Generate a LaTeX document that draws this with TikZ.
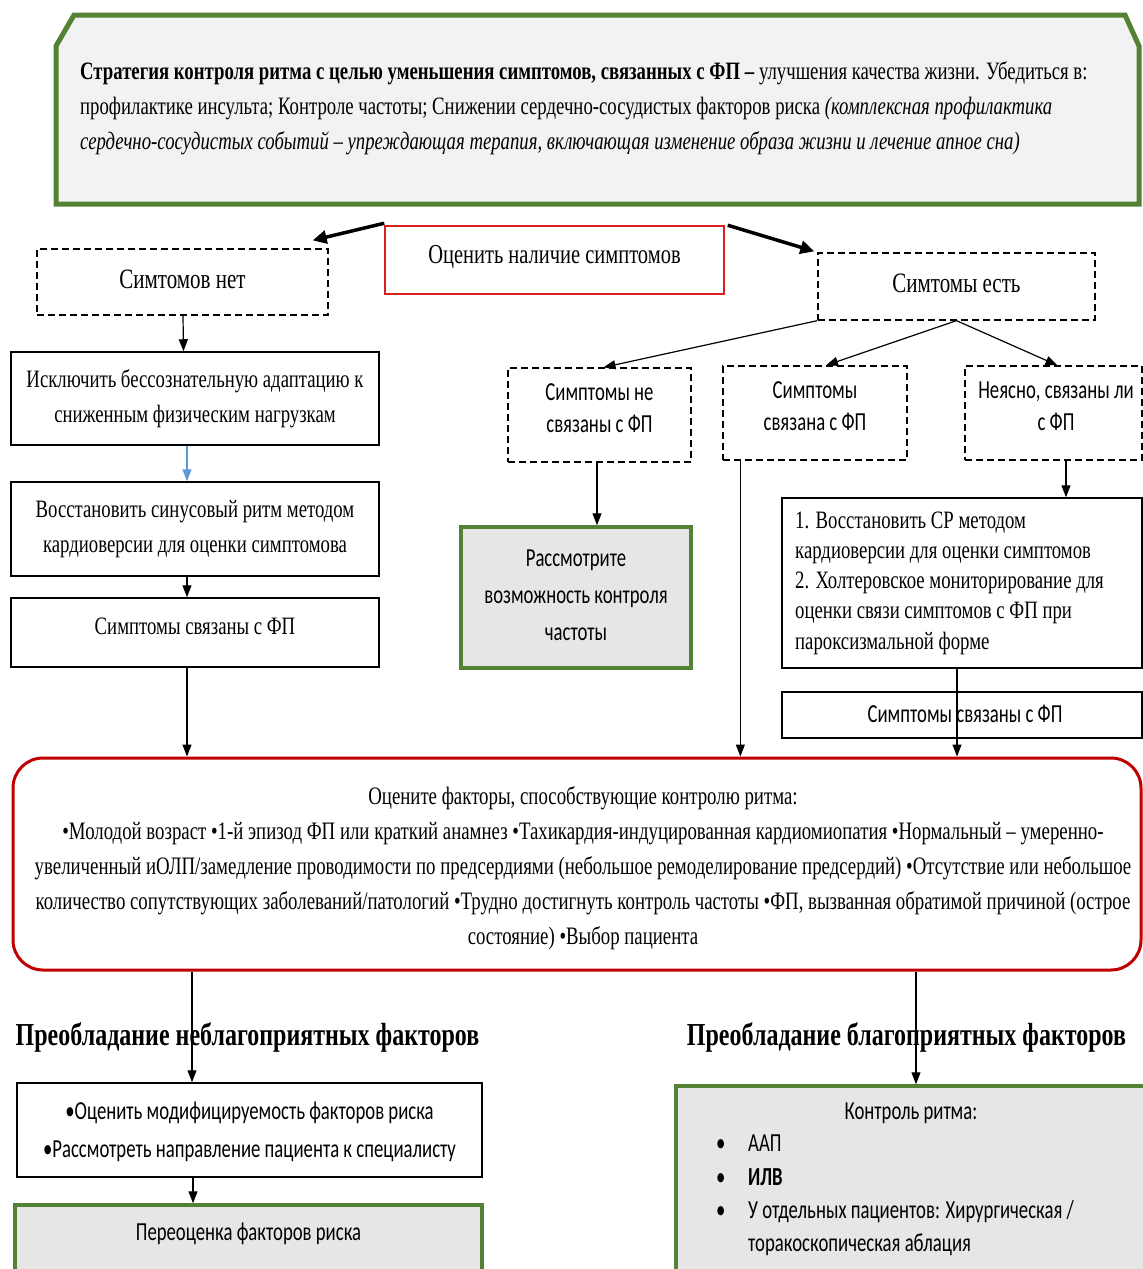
\documentclass[tikz,border=0pt]{standalone}
\usepackage{fontspec}
\setmainfont[FakeStretch=0.75]{Liberation Serif}
\newfontfamily\calfont[FakeStretch=0.72]{Carlito}
\usetikzlibrary{arrows.meta,calc}
\definecolor{grn}{HTML}{548235}
\definecolor{redd}{HTML}{C00000}
\definecolor{lred}{HTML}{D82020}
\definecolor{fillA}{HTML}{F2F2F2}
\definecolor{fillB}{HTML}{E6E6E6}
\definecolor{blu}{HTML}{5B9BD5}
\tikzset{
  srfbig/.style={font=\fontsize{28}{35}\selectfont},
  srf/.style={font=\fontsize{25}{35}\selectfont},
  sns/.style={font=\calfont\fontsize{26}{32}\selectfont},
  solidbox/.style={draw=black, line width=1.5pt, rectangle, inner sep=0pt, align=center},
  dashbox/.style={draw=black, line width=1.3pt, dash pattern=on 7pt off 4pt, rectangle, inner sep=0pt, align=center},
  greenbox/.style={draw=grn, line width=3.5pt, fill=fillB, rectangle, inner sep=0pt, align=center},
  txt/.style={inner sep=0pt, align=center},
  arr/.style={draw=black, line width=1.2pt, -{Triangle[length=12pt,width=9pt]}},
  thickarr/.style={draw=black, line width=3.5pt, -{Triangle[length=14pt,width=13pt]}},
}
\begin{document}
\begin{tikzpicture}[x=1pt,y=-1pt]
\useasboundingbox (0,0) rectangle (1143,1269);
% top box
\draw[draw=grn, line width=5pt, fill=fillA] (74,15) -- (1125,15) -- (1139,46) -- (1139,204) -- (56,204) -- (56,46) -- cycle;
\node[font=\fontsize{25}{35}\selectfont, anchor=west, align=left, inner sep=0pt] (strat) at (80,108)
 {\textbf{Стратегия контроля ритма с целью уменьшения симптомов, связанных с ФП –} улучшения качества жизни. Убедиться в:\\
  профилактике инсульта; Контроле частоты; Снижении сердечно-сосудистых факторов риска \textit{(комплексная профилактика}\\
  \textit{сердечно-сосудистых событий – упреждающая терапия, включающая изменение образа жизни и лечение апное сна)}};

\node[solidbox, draw=lred, minimum width=339pt, minimum height=68pt] (ocen) at (554.5,260) {};
\node[txt, font=\fontsize{27.3}{35}\selectfont] (ocenT) at (554.5,257) {Оценить наличие симптомов};
\node[dashbox, minimum width=291pt, minimum height=66pt] (net) at (182.5,282) {};
\node[txt, srfbig] (netT) at (182.5,279) {Симтомов нет};
\node[dashbox, minimum width=277pt, minimum height=67pt] (yes) at (956.5,286.5) {};
\node[txt, srfbig] (yesT) at (956.5,283) {Симтомы есть};

\node[solidbox, srf, minimum width=368pt, minimum height=93pt] (excl) at (195,398.5) {Исключить бессознательную адаптацию к\\сниженным физическим нагрузкам};
\node[solidbox, srf, minimum width=368pt, minimum height=94pt] (rest) at (195,529) {Восстановить синусовый ритм методом\\кардиоверсии для оценки симптомова};
\node[solidbox, minimum width=368pt, minimum height=69pt] (svl) at (195,632.5) {};
\node[txt, srf] (svlT) at (195,626.5) {Симптомы связаны с ФП};

\node[dashbox, minimum width=183pt, minimum height=94pt] (notrel) at (599.5,415) {};
\node[txt, sns] (notrelT) at (599.5,408) {Симптомы не\\связаны с ФП};
\node[dashbox, minimum width=184pt, minimum height=94pt] (rel) at (815,413) {};
\node[txt, sns] (relT) at (815,406) {Симптомы\\связана с ФП};
\node[dashbox, minimum width=177pt, minimum height=94pt] (unc) at (1053.5,413) {};
\node[txt, sns] (uncT) at (1056,406) {Неясно, связаны ли\\с ФП};

\node[greenbox, minimum width=230pt, minimum height=141pt] (rate) at (576,597.5) {};
\node[txt, font=\calfont\fontsize{26}{37}\selectfont] (rateT) at (576,595.5) {Рассмотрите\\возможность контроля\\частоты};

\node[solidbox, minimum width=360pt, minimum height=170pt] (two) at (962,583) {};
\node[font=\fontsize{25}{30.3}\selectfont, anchor=west, align=left, inner sep=0pt] (twoT) at (795,583)
 {1. Восстановить СР методом\\кардиоверсии для оценки симптомов\\2. Холтеровское мониторирование для\\оценки связи симптомов с ФП при\\пароксизмальной форме};
\node[solidbox, minimum width=360pt, minimum height=46pt] (svl2) at (962,715) {};
\node[txt, sns] (svl2T) at (965,714) {Симптомы связаны с ФП};

\node[draw=redd, line width=3pt, rounded corners=30pt, rectangle, minimum width=1128pt, minimum height=212pt, inner sep=0pt] (red) at (577,864) {};
\node[txt, font=\fontsize{25.1}{35}\selectfont] (redT) at (583,868)
 {Оцените факторы, способствующие контролю ритма:\\
  •Молодой возраст •1-й эпизод ФП или краткий анамнез •Тахикардия-индуцированная кардиомиопатия •Нормальный – умеренно-\\
  увеличенный иОЛП/замедление проводимости по предсердиями (небольшое ремоделирование предсердий) •Отсутствие или небольшое\\
  количество сопутствующих заболеваний/патологий •Трудно достигнуть контроль частоты •ФП, вызванная обратимой причиной (острое\\
  состояние) •Выбор пациента};

\node[txt, font=\bfseries\fontsize{32}{36}\selectfont] (h1) at (247.5,1037) {Преобладание неблагоприятных факторов};
\node[txt, font=\bfseries\fontsize{32}{36}\selectfont] (h2) at (906.5,1037) {Преобладание благоприятных факторов};

\node[solidbox, minimum width=465pt, minimum height=94pt] (mod) at (249.5,1130) {};
\node[txt, font=\calfont\fontsize{26}{38}\selectfont] (modT) at (249.5,1131.5) {•Оценить модифицируемость факторов риска\\•Рассмотреть направление пациента к специалисту};
\node[greenbox, minimum width=467pt, minimum height=80pt] (reo) at (248.5,1245) {};
\node[txt, sns] (reoT) at (248.5,1234) {Переоценка факторов риска};

\node[greenbox, minimum width=474pt, minimum height=200pt] (ctrl) at (913,1186) {};
\node[txt, sns] (ctitle) at (911,1113) {Контроль ритма:};
\node[font=\calfont\fontsize{26}{33.3}\selectfont, anchor=north west, align=left, inner sep=0pt] (clist) at (716,1135)
 {\makebox[32pt][l]{•}ААП\\
  \makebox[32pt][l]{•}\textbf{ИЛВ}\\
  \makebox[32pt][l]{•}У отдельных пациентов: Хирургическая /\\
  \hspace*{32pt}торакоскопическая аблация};

% helper coordinates
\coordinate (c1) at ([xshift=-8pt]svl.south);
\coordinate (c2) at ([xshift=18pt]rel.south west);
\coordinate (c3) at ([xshift=12.5pt]unc.south);
\coordinate (c4) at ([xshift=-5pt]two.south);
\coordinate (c5) at ([xshift=-57.5pt]mod.north);
\coordinate (c6) at ([xshift=3pt]ctrl.north);

% connectors
\draw[thickarr] ([yshift=2pt]ocen.north west) -- ([shift={(-16,-8)}]net.north east);
\draw[thickarr] ([xshift=3pt]ocen.north east) -- ([shift={(-3,-1)}]yes.north west);
\draw[arr] ([xshift=0.5pt]net.south) -- ([xshift=-11.5pt]excl.north);
\draw[arr, draw=blu] ([xshift=-8pt]excl.south) -- ([xshift=-8pt]rest.north);
\draw[arr] ([xshift=-8pt]rest.south) -- ([xshift=-8pt]svl.north);
\draw[arr] (c1) -- (c1 |- red.north);
\draw[arr] (yes.south west) -- ([xshift=4pt]notrel.north);
\draw[arr] (yes.south) -- ([xshift=11pt]rel.north);
\draw[arr] (yes.south) -- ([xshift=4pt]unc.north);
\draw[arr] ([xshift=-2.5pt]notrel.south) -- ([xshift=21pt]rate.north);
\draw[arr] (c2) -- (c2 |- red.north);
\draw[arr] (c3) -- (c3 |- two.north);
\draw[arr] (c4) -- (c4 |- red.north);
\draw[arr] (c5 |- red.south) -- (c5);
\draw[arr] ([xshift=-56.5pt]mod.south) -- ([xshift=-55.5pt]reo.north);
\draw[arr] (c6 |- red.south) -- (c6);
\end{tikzpicture}
\end{document}
